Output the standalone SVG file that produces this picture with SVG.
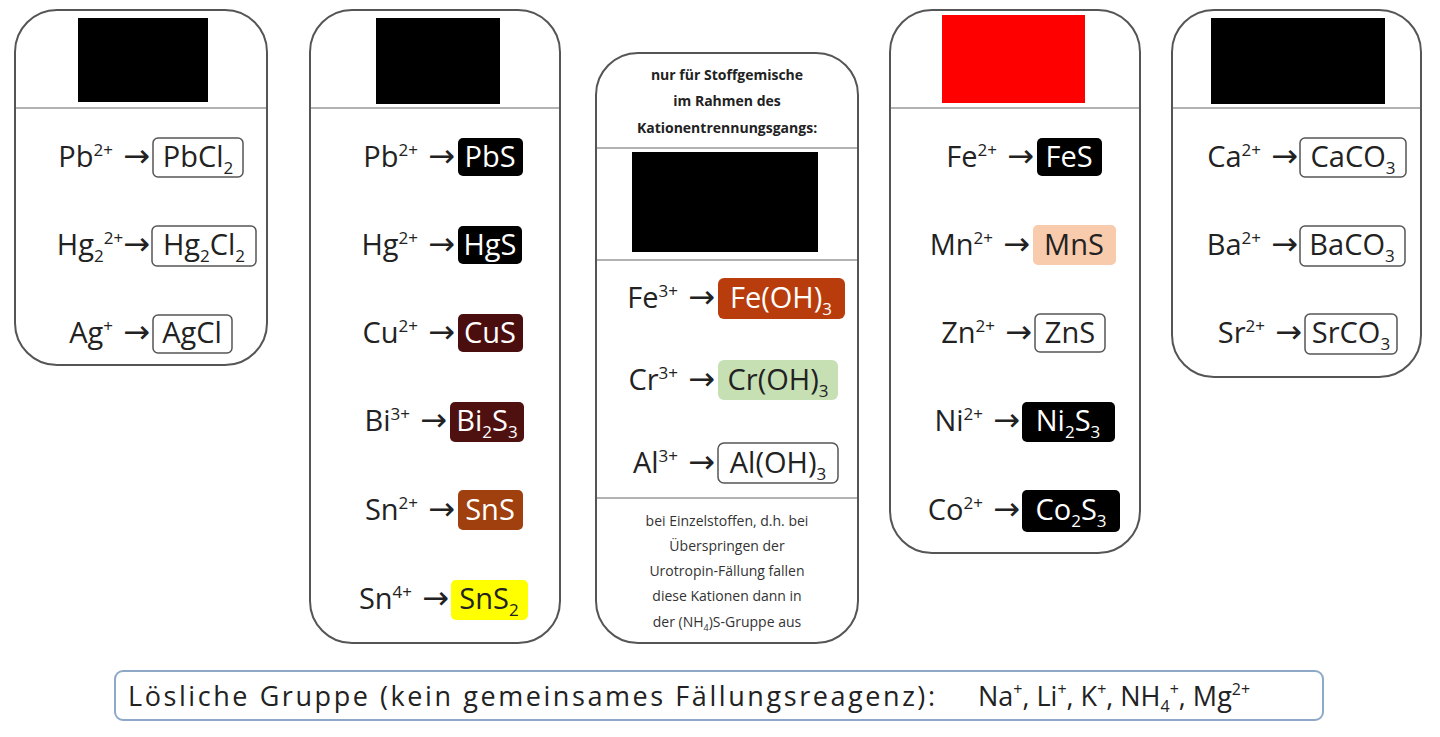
<svg xmlns="http://www.w3.org/2000/svg" width="1440" height="737" viewBox="0 0 1440 737">
<style>
.box{fill:#fff;stroke:#555;stroke-width:2}
.sep{stroke:#999;stroke-width:1.5}
text{font-family:"Open Sans","Liberation Sans",sans-serif;fill:#222}
.r{font-size:29px;text-anchor:end}
.p{font-size:29px;text-anchor:middle}
.s{font-size:17px}
.a{font-family:"DejaVu Sans",sans-serif;font-size:32px}
.w{fill:#fff}
.pw{fill:#fff;stroke:#555;stroke-width:1.5}
.h{font-size:14px;font-weight:bold;text-anchor:middle}
.n{font-size:14px;text-anchor:middle;fill:#333}
</style>
<rect width="1440" height="737" fill="#fff"/>
<g id="group-hcl">
<rect class="box" x="15" y="10" width="252" height="355" rx="42"/>
<line class="sep" x1="16" y1="108" x2="266" y2="108"/>
<rect x="78" y="18" width="130" height="84" fill="#000"/>
<rect class="pw" x="153" y="138" width="90" height="39" rx="5"/>
<text class="r" x="150" y="167">Pb<tspan class="s" dy="-11">2+</tspan><tspan class="a" dy="11"> →</tspan></text>
<text class="p" x="198" y="167">PbCl<tspan class="s" dy="7">2</tspan></text>
<rect class="pw" x="152" y="226" width="104" height="40" rx="5"/>
<text class="r" x="150" y="255">Hg<tspan class="s" dy="7">2</tspan><tspan class="s" dy="-18">2+</tspan><tspan class="a" dy="11">→</tspan></text>
<text class="p" x="204" y="255">Hg<tspan class="s" dy="7">2</tspan><tspan dy="-7">Cl</tspan><tspan class="s" dy="7">2</tspan></text>
<rect class="pw" x="153" y="315" width="79" height="38" rx="5"/>
<text class="r" x="150" y="343">Ag<tspan class="s" dy="-11">+</tspan><tspan class="a" dy="11"> →</tspan></text>
<text class="p" x="192" y="343">AgCl</text>
</g>
<g id="group-h2s">
<rect class="box" x="310" y="10" width="250" height="633" rx="42"/>
<line class="sep" x1="311" y1="108" x2="559" y2="108"/>
<rect x="376" y="18" width="124" height="86" fill="#000"/>
<rect x="458" y="138" width="65" height="38" rx="5" fill="#000"/>
<text class="r" x="455" y="167">Pb<tspan class="s" dy="-11">2+</tspan><tspan class="a" dy="11"> →</tspan></text>
<text class="p w" x="490" y="167">PbS</text>
<rect x="458" y="226" width="64" height="38" rx="5" fill="#000"/>
<text class="r" x="455" y="255">Hg<tspan class="s" dy="-11">2+</tspan><tspan class="a" dy="11"> →</tspan></text>
<text class="p w" x="490" y="255">HgS</text>
<rect x="458" y="314" width="65" height="38" rx="5" fill="#4a0e0e"/>
<text class="r" x="455" y="343">Cu<tspan class="s" dy="-11">2+</tspan><tspan class="a" dy="11"> →</tspan></text>
<text class="p w" x="490" y="343">CuS</text>
<rect x="450" y="402" width="74" height="40" rx="5" fill="#4f1010"/>
<text class="r" x="447" y="431">Bi<tspan class="s" dy="-11">3+</tspan><tspan class="a" dy="11"> →</tspan></text>
<text class="p w" x="487" y="431">Bi<tspan class="s" dy="7">2</tspan><tspan dy="-7">S</tspan><tspan class="s" dy="7">3</tspan></text>
<rect x="458" y="490" width="65" height="40" rx="5" fill="#a0400e"/>
<text class="r" x="455" y="520">Sn<tspan class="s" dy="-11">2+</tspan><tspan class="a" dy="11"> →</tspan></text>
<text class="p w" x="490" y="520">SnS</text>
<rect x="451" y="580" width="77" height="40" rx="5" fill="#ffff00"/>
<text class="r" x="449" y="609">Sn<tspan class="s" dy="-11">4+</tspan><tspan class="a" dy="11"> →</tspan></text>
<text class="p" x="489" y="609">SnS<tspan class="s" dy="7">2</tspan></text>
</g>
<g id="group-urotropin">
<rect class="box" x="596" y="53" width="262" height="590" rx="42"/>
<text class="h" x="727" y="80">nur für Stoffgemische</text>
<text class="h" x="727" y="106">im Rahmen des</text>
<text class="h" x="727" y="133">Kationentrennungsgangs:</text>
<line class="sep" x1="597" y1="148" x2="857" y2="148"/>
<rect x="632" y="152" width="186" height="100" fill="#000"/>
<line class="sep" x1="597" y1="260" x2="857" y2="260"/>
<rect x="718" y="278" width="127" height="41" rx="6" fill="#b93c0c"/>
<text class="r" x="715" y="308">Fe<tspan class="s" dy="-11">3+</tspan><tspan class="a" dy="11"> →</tspan></text>
<text class="p w" x="781" y="308">Fe(OH)<tspan class="s" dy="7">3</tspan></text>
<rect x="718" y="360" width="120" height="40" rx="6" fill="#c6e0b4"/>
<text class="r" x="715" y="390">Cr<tspan class="s" dy="-11">3+</tspan><tspan class="a" dy="11"> →</tspan></text>
<text class="p" x="778" y="390">Cr(OH)<tspan class="s" dy="7">3</tspan></text>
<rect class="pw" x="718" y="443" width="120" height="40" rx="6"/>
<text class="r" x="715" y="473">Al<tspan class="s" dy="-11">3+</tspan><tspan class="a" dy="11"> →</tspan></text>
<text class="p" x="778" y="473">Al(OH)<tspan class="s" dy="7">3</tspan></text>
<line class="sep" x1="597" y1="498" x2="857" y2="498"/>
<text class="n" x="727" y="526">bei Einzelstoffen, d.h. bei</text>
<text class="n" x="727" y="551">Überspringen der</text>
<text class="n" x="727" y="576">Urotropin-Fällung fallen</text>
<text class="n" x="727" y="601">diese Kationen dann in</text>
<text class="n" x="727" y="627">der (NH<tspan font-size="9" dy="4">4</tspan><tspan dy="-4">)S-Gruppe aus</tspan></text>
</g>
<g id="group-nh4s">
<rect class="box" x="890" y="10" width="250" height="543" rx="42"/>
<line class="sep" x1="891" y1="108" x2="1139" y2="108"/>
<rect x="942" y="15" width="143" height="88" fill="#ff0000"/>
<rect x="1037" y="138" width="65" height="38" rx="5" fill="#000"/>
<text class="r" x="1034" y="167">Fe<tspan class="s" dy="-11">2+</tspan><tspan class="a" dy="11"> →</tspan></text>
<text class="p w" x="1069" y="167">FeS</text>
<rect x="1033" y="225" width="83" height="40" rx="5" fill="#f8cbad"/>
<text class="r" x="1030" y="255">Mn<tspan class="s" dy="-11">2+</tspan><tspan class="a" dy="11"> →</tspan></text>
<text class="p" x="1074" y="255">MnS</text>
<rect class="pw" x="1035" y="314" width="70" height="38" rx="5"/>
<text class="r" x="1032" y="343">Zn<tspan class="s" dy="-11">2+</tspan><tspan class="a" dy="11"> →</tspan></text>
<text class="p" x="1070" y="343">ZnS</text>
<rect x="1022" y="402" width="93" height="40" rx="5" fill="#000"/>
<text class="r" x="1020" y="431">Ni<tspan class="s" dy="-11">2+</tspan><tspan class="a" dy="11"> →</tspan></text>
<text class="p w" x="1068" y="431">Ni<tspan class="s" dy="7">2</tspan><tspan dy="-7">S</tspan><tspan class="s" dy="7">3</tspan></text>
<rect x="1022" y="490" width="98" height="42" rx="5" fill="#000"/>
<text class="r" x="1020" y="520">Co<tspan class="s" dy="-11">2+</tspan><tspan class="a" dy="11"> →</tspan></text>
<text class="p w" x="1071" y="520">Co<tspan class="s" dy="7">2</tspan><tspan dy="-7">S</tspan><tspan class="s" dy="7">3</tspan></text>
</g>
<g id="group-carbonate">
<rect class="box" x="1172" y="10" width="249" height="367" rx="42"/>
<line class="sep" x1="1173" y1="108" x2="1420" y2="108"/>
<rect x="1211" y="18" width="174" height="86" fill="#000"/>
<rect class="pw" x="1300" y="138" width="106" height="39" rx="5"/>
<text class="r" x="1298" y="167">Ca<tspan class="s" dy="-11">2+</tspan><tspan class="a" dy="11"> →</tspan></text>
<text class="p" x="1353" y="167">CaCO<tspan class="s" dy="7">3</tspan></text>
<rect class="pw" x="1300" y="226" width="105" height="40" rx="5"/>
<text class="r" x="1298" y="255">Ba<tspan class="s" dy="-11">2+</tspan><tspan class="a" dy="11"> →</tspan></text>
<text class="p" x="1352" y="255">BaCO<tspan class="s" dy="7">3</tspan></text>
<rect class="pw" x="1305" y="314" width="92" height="40" rx="5"/>
<text class="r" x="1302" y="343">Sr<tspan class="s" dy="-11">2+</tspan><tspan class="a" dy="11"> →</tspan></text>
<text class="p" x="1351" y="343">SrCO<tspan class="s" dy="7">3</tspan></text>
</g>
<g id="group-soluble">
<rect x="115" y="671" width="1208" height="49" rx="8" fill="#fff" stroke="#8ea9c8" stroke-width="2"/>
<text x="128" y="706" font-size="27" textLength="807" lengthAdjust="spacing">Lösliche Gruppe (kein gemeinsames Fällungsreagenz):</text>
<text x="978" y="706" font-size="27">Na<tspan font-size="16" dy="-11">+</tspan><tspan dy="11">, Li</tspan><tspan font-size="16" dy="-11">+</tspan><tspan dy="11">, K</tspan><tspan font-size="16" dy="-11">+</tspan><tspan dy="11">, NH</tspan><tspan font-size="16" dy="6">4</tspan><tspan font-size="16" dy="-17">+</tspan><tspan dy="11">, Mg</tspan><tspan font-size="16" dy="-11">2+</tspan></text>
</g>
<g id="connectors"/>
</svg>
